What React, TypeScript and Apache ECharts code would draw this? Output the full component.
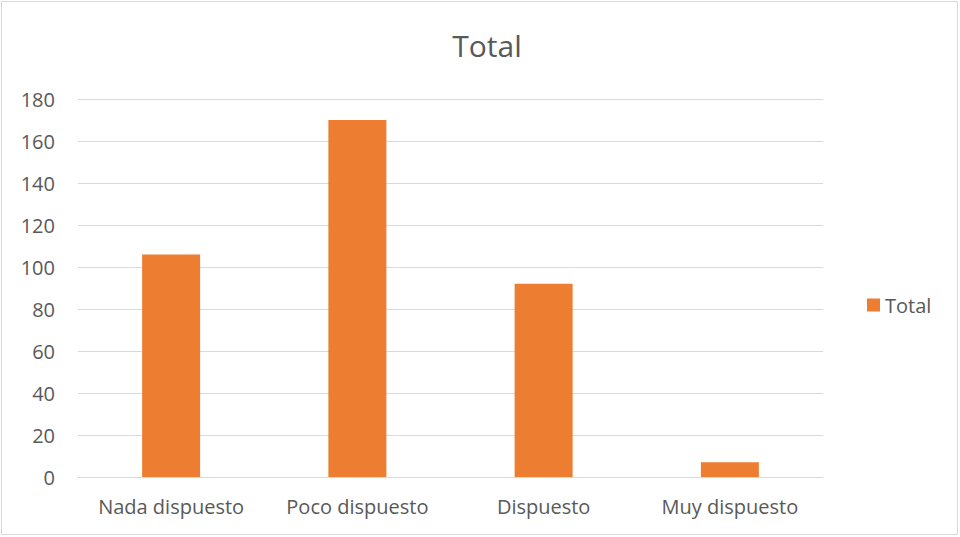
import React, { useEffect, useRef } from "react";
import * as echarts from "echarts";

const categories = ["Nada dispuesto", "Poco dispuesto", "Dispuesto", "Muy dispuesto"];
const totals = [106, 170, 92, 7];
const seriesName = "Total";

export default function App() {
  const ref = useRef<HTMLDivElement>(null);
  useEffect(() => {
    document.body.style.margin = "0";
    if (!ref.current) return;
    const chart = echarts.init(ref.current, null, { renderer: "svg" });
    const font = "'Open Sans', 'Noto Sans', sans-serif";
    chart.setOption({
      animation: false,
      backgroundColor: "#ffffff",
      textStyle: { fontFamily: font },
      title: {
        text: "Total",
        left: 482,
        textAlign: "center",
        top: 25,
        textStyle: { fontSize: 30, fontWeight: "normal", color: "#595959", fontFamily: font },
      },
      legend: {
        data: [seriesName],
        orient: "vertical",
        left: 862,
        top: 290,
        itemWidth: 13,
        itemHeight: 13,
        itemGap: 6,
        icon: "rect",
        textStyle: { fontSize: 20, color: "#595959", fontFamily: font },
      },
      grid: { left: 78, right: 137, top: 99, bottom: 60, containLabel: false },
      xAxis: {
        type: "category",
        data: categories,
        axisLine: { show: true, lineStyle: { color: "#d9d9d9", width: 1 } },
        axisTick: { show: false },
        axisLabel: { interval: 0, hideOverlap: false, fontSize: 20, color: "#595959", margin: 19, fontFamily: font },
      },
      yAxis: {
        type: "value",
        min: 0,
        max: 180,
        interval: 20,
        axisLine: { show: false },
        axisTick: { show: false },
        splitLine: { lineStyle: { color: "#d9d9d9", width: 1 } },
        axisLabel: { fontSize: 20, color: "#595959", margin: 23, fontFamily: font },
      },
      series: [
        {
          name: seriesName,
          type: "bar",
          data: totals,
          barWidth: 58,
          itemStyle: { color: "#ED7D31" },
        },
      ],
      graphic: [
        {
          type: "rect",
          shape: { x: 1.5, y: 1.5, width: 956, height: 533 },
          style: { fill: "none", stroke: "#d9d9d9", lineWidth: 1 },
          silent: true,
        },
      ],
    });
    return () => chart.dispose();
  }, []);
  return <div ref={ref} style={{ width: 960, height: 537 }} />;
}
